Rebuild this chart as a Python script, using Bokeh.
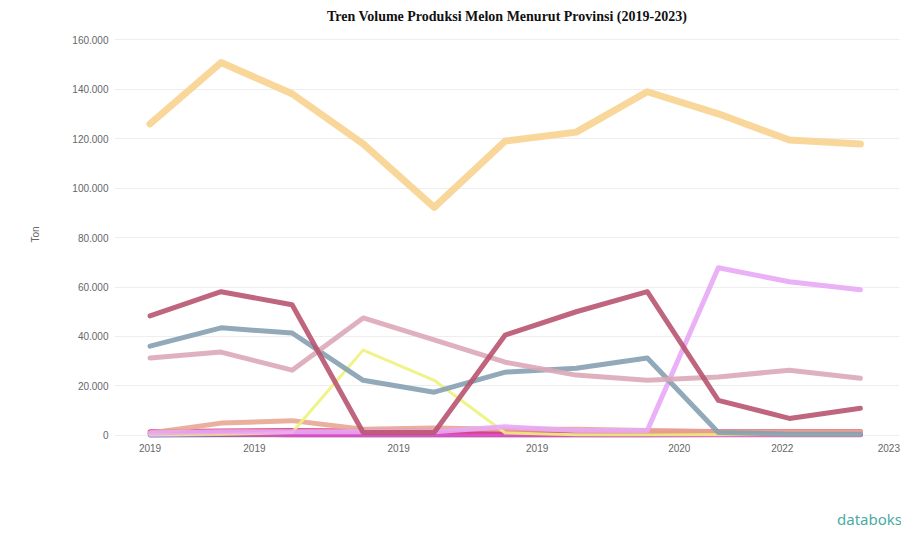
from bokeh.plotting import figure
from bokeh.models import Range1d, FixedTicker
from bokeh.embed import file_html
from bokeh.resources import INLINE

# ---- data ----
x_idx = [0, 1, 2, 3, 4, 5, 6, 7, 8, 9, 10]
x_tick_pos = [0, 1.47, 3.5, 5.45, 7.45, 8.9, 10.4]
x_tick_labels = ["2019", "2019", "2019", "2019", "2020", "2022", "2023"]
y_ticks = [0, 20000, 40000, 60000, 80000, 100000, 120000, 140000, 160000]
y_tick_labels = ["0", "20.000", "40.000", "60.000", "80.000", "100.000", "120.000", "140.000", "160.000"]

s_orange = [125900, 150700, 138100, 117800, 92200, 119000, 122600, 138900, 130000, 119400, 117800]
s_crimson = [48300, 58100, 52800, 1200, 1200, 40600, 50000, 58100, 14200, 6900, 11000]
s_mauve = [31300, 33700, 26400, 47500, 38600, 29600, 24400, 22300, 23600, 26400, 23100]
s_blue = [36100, 43500, 41400, 22300, 17500, 25600, 27200, 31300, 1200, 500, 500]
s_yellow = [300, 500, 1200, 34500, 22300, 1000, 300, 300, 300, 300, 300]
s_violet = [1000, 1500, 1500, 1500, 1500, 3500, 2000, 2000, 67800, 62100, 58900]
s_salmon = [1000, 5000, 6000, 2500, 3000, 2500, 2500, 2000, 1500, 1500, 1500]
s_magenta = [800, 600, 300, 300, 300, 300, 300, 300, 300, 300, 300]
s_lavender = [200, 800, 1000, 800, 700, 700, 700, 600, 500, 500, 500]
s_pink = [1500, 1800, 2000, 1800, 1800, 1700, 1700, 1700, 1600, 1600, 1600]
s_green = [0, 0, 0, 0, 0, 0, 0, 0, 200, 300, 300]
s_purple = [100, 200, 300, 300, 300, 300, 300, 1000, 300, 200, 200]

p = figure(width=901, height=531, output_backend="svg", toolbar_location=None,
           x_range=Range1d(-0.5, 10.55), y_range=Range1d(-2030, 164467),
           min_border_left=114, min_border_right=2, min_border_top=28, min_border_bottom=91)
p.outline_line_color = None
p.background_fill_color = "white"

p.title.text = "Tren Volume Produksi Melon Menurut Provinsi (2019-2023)"
p.title.align = "center"
p.title.text_font = "Liberation Serif"
p.title.text_font_size = "14px"
p.title.text_font_style = "bold"
p.title.text_color = "#111111"

series = [
    (s_green, "#a9d98f", 4),
    (s_purple, "#6c55b8", 4),
    (s_lavender, "#b8a6f2", 5),
    (s_magenta, "#e048c8", 5),
    (s_pink, "#d8407a", 5),
    (s_salmon, "#e9a694", 5),
    (s_yellow, "#eef27a", 3),
    (s_violet, "#e8a8f6", 5),
    (s_blue, "#86a0b3", 5),
    (s_mauve, "#dba8b7", 5),
    (s_crimson, "#b8546f", 5),
    (s_orange, "#f8d38f", 7),
]
for ys, col, w in series:
    p.line(x_idx, ys, line_color=col, line_width=w, line_alpha=0.9, line_join="round", line_cap="round")

p.xgrid.grid_line_color = None
p.ygrid.grid_line_color = "#eeeeee"
p.ygrid.ticker = FixedTicker(ticks=y_ticks)

p.yaxis.ticker = FixedTicker(ticks=y_ticks)
p.yaxis.major_label_overrides = {t: l for t, l in zip(y_ticks, y_tick_labels)}
p.yaxis.axis_label = "Ton"
p.yaxis.axis_label_text_font_size = "10px"
p.yaxis.axis_label_text_font_style = "normal"
p.yaxis.axis_label_text_color = "#666666"
p.yaxis.axis_label_standoff = 28

p.xaxis.ticker = FixedTicker(ticks=x_tick_pos)
p.xaxis.major_label_overrides = {t: l for t, l in zip(x_tick_pos, x_tick_labels)}

for ax in (p.xaxis, p.yaxis):
    ax.axis_line_color = None
    ax.major_tick_line_color = None
    ax.minor_tick_line_color = None
    ax.major_label_text_font_size = "10px"
    ax.major_label_text_color = "#666666"
    ax.major_label_text_font = "Liberation Sans"
p.yaxis.major_label_standoff = 0
p.xaxis.major_label_standoff = -3

# databoks logo as the x axis label; trailing em spaces shift it left of the frame end
p.xaxis.axis_label = "databoks\u2003\u2003\u2003\u2003"
p.xaxis.axis_label_align = "end"
p.xaxis.axis_label_standoff = 54
p.xaxis.axis_label_text_font = "Noto Sans"
p.xaxis.axis_label_text_font_size = "15px"
p.xaxis.axis_label_text_font_style = "normal"
p.xaxis.axis_label_text_color = "#4aaba3"

open("out.html", "w").write(file_html(p, INLINE))
